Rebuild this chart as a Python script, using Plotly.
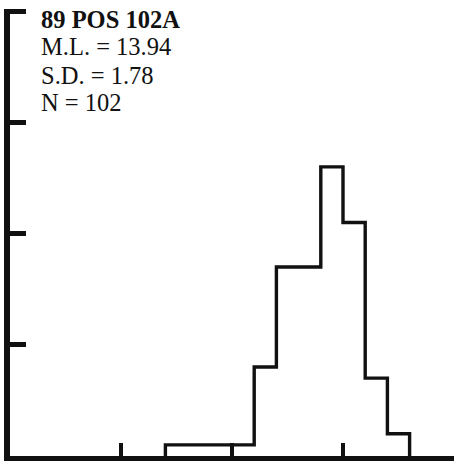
import plotly.graph_objects as go

# Histogram data (bin left edges, counts)
bin_edges = [7, 8, 9, 10, 11, 12, 13, 14, 15, 16, 17, 18]
counts = [1, 1, 1, 1, 8, 17, 17, 26, 21, 7, 2]

x_ticks = [5, 10, 15]
y_ticks = [10, 20, 30, 40]

title_line = "89 POS 102A"
stat_lines = ["M.L. = 13.94", "S.D. = 1.78", "N = 102"]

# build step outline from the data
xs, ys = [bin_edges[0]], [0]
for i, c in enumerate(counts):
    xs += [bin_edges[i], bin_edges[i + 1]]
    ys += [c, c]
xs.append(bin_edges[-1])
ys.append(0)

fig = go.Figure()
fig.add_trace(go.Scatter(x=xs, y=ys, mode="lines",
                         line=dict(color="#111111", width=3.4),
                         hoverinfo="skip", showlegend=False))

W, H = 456, 461
ML, MR, MT, MB = 10, 2, 9, 5
plot_h = H - MT - MB

font_serif = "Liberation Serif"
lines = ["<b>" + title_line + "</b>"] + stat_lines
centers_px = [19, 47, 75, 103]
for t, cy in zip(lines, centers_px):
    fig.add_annotation(x=0, y=(H - MB - cy) / plot_h, xref="paper", yref="paper",
                       xanchor="left", yanchor="middle", xshift=29,
                       text=t, showarrow=False, align="left",
                       font=dict(family=font_serif, size=24.5, color="#111111"))

fig.update_layout(
    width=W, height=H,
    margin=dict(l=ML, r=MR, t=MT, b=MB),
    paper_bgcolor="white", plot_bgcolor="white",
    xaxis=dict(range=[0, 20], showgrid=False, zeroline=False,
               showline=True, linecolor="#111111", linewidth=6,
               ticks="inside", tickvals=x_ticks, ticklen=13, tickwidth=4,
               tickcolor="#111111", showticklabels=False, fixedrange=True),
    yaxis=dict(range=[0, 40.2], showgrid=False, zeroline=False,
               showline=True, linecolor="#111111", linewidth=6,
               ticks="inside", tickvals=y_ticks, ticklen=16, tickwidth=5,
               tickcolor="#111111", showticklabels=False, fixedrange=True),
)

fig.write_html("out.html", config={"displayModeBar": False},
               post_script="document.body.style.margin='0';document.body.style.padding='0';")
